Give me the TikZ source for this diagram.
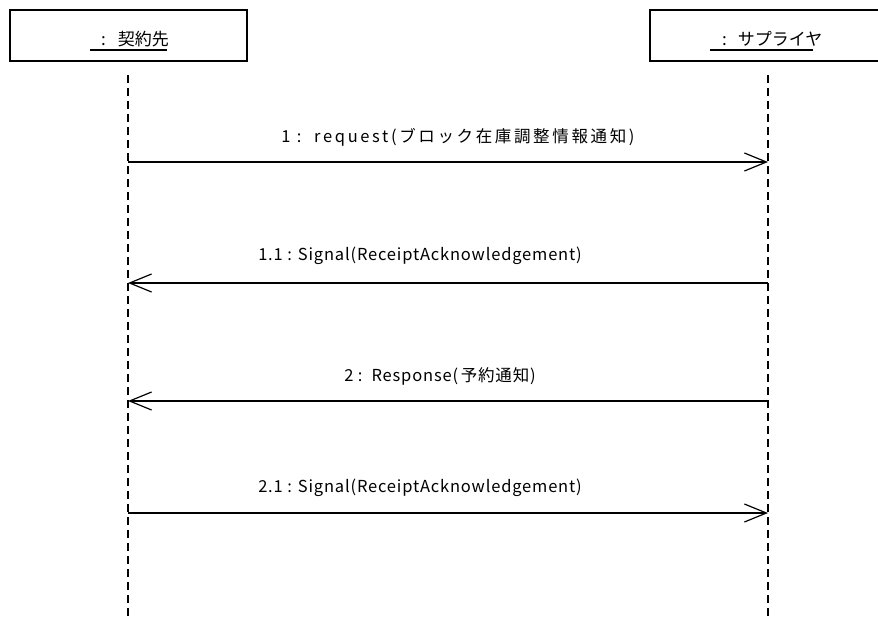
\documentclass[tikz,border=0pt]{standalone}
\usepackage{fontspec}
\setmainfont{Noto Sans CJK JP}
\newfontfamily\jp{Noto Sans CJK JP}
\newfontfamily\jpwide[LetterSpace=16]{Noto Sans CJK JP}
\newfontfamily\jpmid[LetterSpace=5]{Noto Sans CJK JP}
\usetikzlibrary{arrows.meta}
\tikzset{
  objbox/.style={draw, line width=1.2pt, minimum height=51pt, inner sep=0pt},
  objlbl/.style={font=\jp\fontsize{17}{19}\selectfont, inner sep=0pt, anchor=base west},
  uline/.style={line width=1.3pt},
  lifeline/.style={line width=1.2pt, dash pattern=on 8pt off 5pt},
  msg/.style={line width=1.3pt, -{Straight Barb[length=22pt,width=18pt,line width=1.2pt]}},
  msglbl/.style={font=\jpmid\fontsize{16.5}{18}\selectfont, inner sep=0pt},
  msgwide/.style={font=\jpwide\fontsize{16.5}{18}\selectfont, inner sep=0pt},
}
\begin{document}
\begin{tikzpicture}[x=1pt,y=-1pt]
\useasboundingbox (0,0) rectangle (878,621);
% object boxes
\node[objbox, minimum width=237pt] (bA) at (128.5,35.5) {};
\node[objbox, minimum width=240pt] (bB) at (770,35.5) {};
\node[objlbl] (tA) at (101,45) {:\hspace{12pt}契約先};
\node[objlbl] (tB) at (722,45) {:\hspace{11pt}サプライヤ};
\draw[uline] ([xshift=-11pt,yshift=-5pt]tA.base west) -- ([xshift=-2pt,yshift=-5pt]tA.base east);
\draw[uline] ([xshift=-12pt,yshift=-5pt]tB.base west) -- ([xshift=-10pt,yshift=-5pt]tB.base east);
% lifeline coordinates
\coordinate (a0) at (128,75);
\coordinate (a9) at (128,621);
\coordinate (b0) at (768,75);
\coordinate (b9) at (768,621);
\draw[lifeline] (a0) -- (a9);
\draw[lifeline] (b0) -- (b9);
% message end points
\coordinate (m1a) at (128,162); \coordinate (m1b) at (768,162);
\coordinate (m2a) at (128,283); \coordinate (m2b) at (768,283);
\coordinate (m3a) at (128,401); \coordinate (m3b) at (768,401);
\coordinate (m4a) at (128,513); \coordinate (m4b) at (768,513);
\draw[msg] (m1a) -- (m1b);
\draw[msg] (m2b) -- (m2a);
\draw[msg] (m3b) -- (m3a);
\draw[msg] (m4a) -- (m4b);
% labels
\node[msgwide] (l1) at (458,137) {1 :\ \ request(ブロック在庫調整情報通知)};
\node[msglbl] (l2) at (420,256) {1.1 : Signal(ReceiptAcknowledgement)};
\node[msglbl] (l3) at (440,376) {2 :\ \ Response(\,予約通知)};
\node[msglbl] (l4) at (420,488) {2.1 : Signal(ReceiptAcknowledgement)};
\end{tikzpicture}
\end{document}
